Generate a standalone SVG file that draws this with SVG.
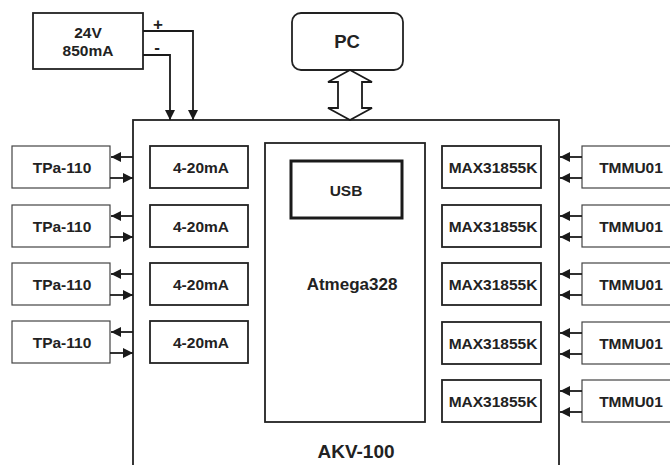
<svg xmlns="http://www.w3.org/2000/svg" width="670" height="465" viewBox="0 0 670 465">
<defs>
<marker id="ah" viewBox="0 0 10 10" refX="10" refY="5" markerWidth="10" markerHeight="10" markerUnits="userSpaceOnUse" orient="auto">
<path d="M0,0 L10,5 L0,10 z" fill="#1a1a1a"/>
</marker>
<style>
.b{fill:#fff;stroke:#222;stroke-width:1.8}
.t{fill:#fff;stroke:#444;stroke-width:1.2}
.u{fill:#fff;stroke:#1a1a1a;stroke-width:3}
text{font-family:"Liberation Sans",Arial,sans-serif;font-weight:bold;fill:#222;text-anchor:middle}
.s13{font-size:15.5px}
.s12{font-size:15.5px}
.c{fill:none;stroke:#1a1a1a;stroke-width:1.8}
.ca{fill:none;stroke:#1a1a1a;stroke-width:1.8;marker-end:url(#ah)}
</style>
</defs>
<rect width="670" height="465" fill="#fff"/>
<g id="akv100">
<rect class="b" x="133" y="120" width="426" height="360" stroke-width="2.2"/>
<text x="356" y="458" style="font-size:19px">AKV-100</text>
</g>
<g id="psu">
<rect class="b" x="33" y="13" width="110" height="56"/>
<text class="s13" x="88" y="38">24V</text>
<text class="s13" x="88" y="56">850mA</text>
</g>
<g id="pc">
<rect class="b" x="292" y="13" width="111" height="57" rx="9"/>
<text x="347" y="48" style="font-size:18.5px">PC</text>
</g>
<g id="atmega">
<rect class="b" x="265" y="143" width="160" height="279"/>
<text x="352" y="290" style="font-size:17px">Atmega328</text>
</g>
<g id="usb">
<rect class="u" x="291" y="161" width="111" height="57"/>
<text class="s13" x="346" y="196">USB</text>
</g>
<g id="tpa1"><rect class="t" x="12" y="146" width="98" height="42"/><text class="s13" x="62" y="172.5">TPa-110</text></g>
<g id="tpa2"><rect class="t" x="12" y="205" width="98" height="42"/><text class="s13" x="62" y="231.5">TPa-110</text></g>
<g id="tpa3"><rect class="t" x="12" y="263" width="98" height="42"/><text class="s13" x="62" y="289.5">TPa-110</text></g>
<g id="tpa4"><rect class="t" x="12" y="321" width="98" height="42"/><text class="s13" x="62" y="347.5">TPa-110</text></g>
<g id="ma1"><rect class="b" x="150" y="146" width="98" height="42"/><text class="s13" x="201" y="172.5">4-20mA</text></g>
<g id="ma2"><rect class="b" x="150" y="205" width="98" height="42"/><text class="s13" x="201" y="231.5">4-20mA</text></g>
<g id="ma3"><rect class="b" x="150" y="263" width="98" height="42"/><text class="s13" x="201" y="289.5">4-20mA</text></g>
<g id="ma4"><rect class="b" x="150" y="321" width="98" height="42"/><text class="s13" x="201" y="347.5">4-20mA</text></g>
<g id="max1"><rect class="b" x="442" y="146" width="99" height="42"/><text class="s12" x="493" y="172.5">MAX31855K</text></g>
<g id="max2"><rect class="b" x="442" y="205" width="99" height="42"/><text class="s12" x="493" y="231.5">MAX31855K</text></g>
<g id="max3"><rect class="b" x="442" y="263" width="99" height="42"/><text class="s12" x="493" y="289.5">MAX31855K</text></g>
<g id="max4"><rect class="b" x="442" y="322" width="99" height="42"/><text class="s12" x="493" y="348.5">MAX31855K</text></g>
<g id="max5"><rect class="b" x="442" y="380" width="99" height="42"/><text class="s12" x="493" y="406.5">MAX31855K</text></g>
<g id="tm1"><rect class="t" x="582" y="146" width="95" height="42"/><text class="s13" x="631" y="172.5">TMMU01</text></g>
<g id="tm2"><rect class="t" x="582" y="205" width="95" height="42"/><text class="s13" x="631" y="231.5">TMMU01</text></g>
<g id="tm3"><rect class="t" x="582" y="263" width="95" height="42"/><text class="s13" x="631" y="289.5">TMMU01</text></g>
<g id="tm4"><rect class="t" x="582" y="322" width="95" height="42"/><text class="s13" x="631" y="348.5">TMMU01</text></g>
<g id="tm5"><rect class="t" x="582" y="380" width="95" height="42"/><text class="s13" x="631" y="406.5">TMMU01</text></g>
<g id="connectors">
<path class="ca" d="M143,31 H193 V120"/>
<path class="ca" d="M143,55 H170 V120"/>
<text x="158" y="30" style="font-size:17px">+</text>
<text x="157" y="53" style="font-size:17px">-</text>
<path d="M350,70 L372,82 H362 V108 H372 L350,120 L328,108 H338 V82 H328 Z" fill="#fff" stroke="#1a1a1a" stroke-width="1.8" stroke-linejoin="miter"/>
<path class="ca" d="M133,157 H111"/>
<path class="ca" d="M110,178 H133"/>
<path class="ca" d="M133,216 H111"/>
<path class="ca" d="M110,237 H133"/>
<path class="ca" d="M133,274 H111"/>
<path class="ca" d="M110,295 H133"/>
<path class="ca" d="M133,332 H111"/>
<path class="ca" d="M110,353 H133"/>
<path class="ca" d="M582,157 H560"/>
<path class="ca" d="M582,178 H560"/>
<path class="ca" d="M582,216 H560"/>
<path class="ca" d="M582,237 H560"/>
<path class="ca" d="M582,274 H560"/>
<path class="ca" d="M582,295 H560"/>
<path class="ca" d="M582,333 H560"/>
<path class="ca" d="M582,354 H560"/>
<path class="ca" d="M582,391 H560"/>
<path class="ca" d="M582,412 H560"/>
</g>
</svg>
